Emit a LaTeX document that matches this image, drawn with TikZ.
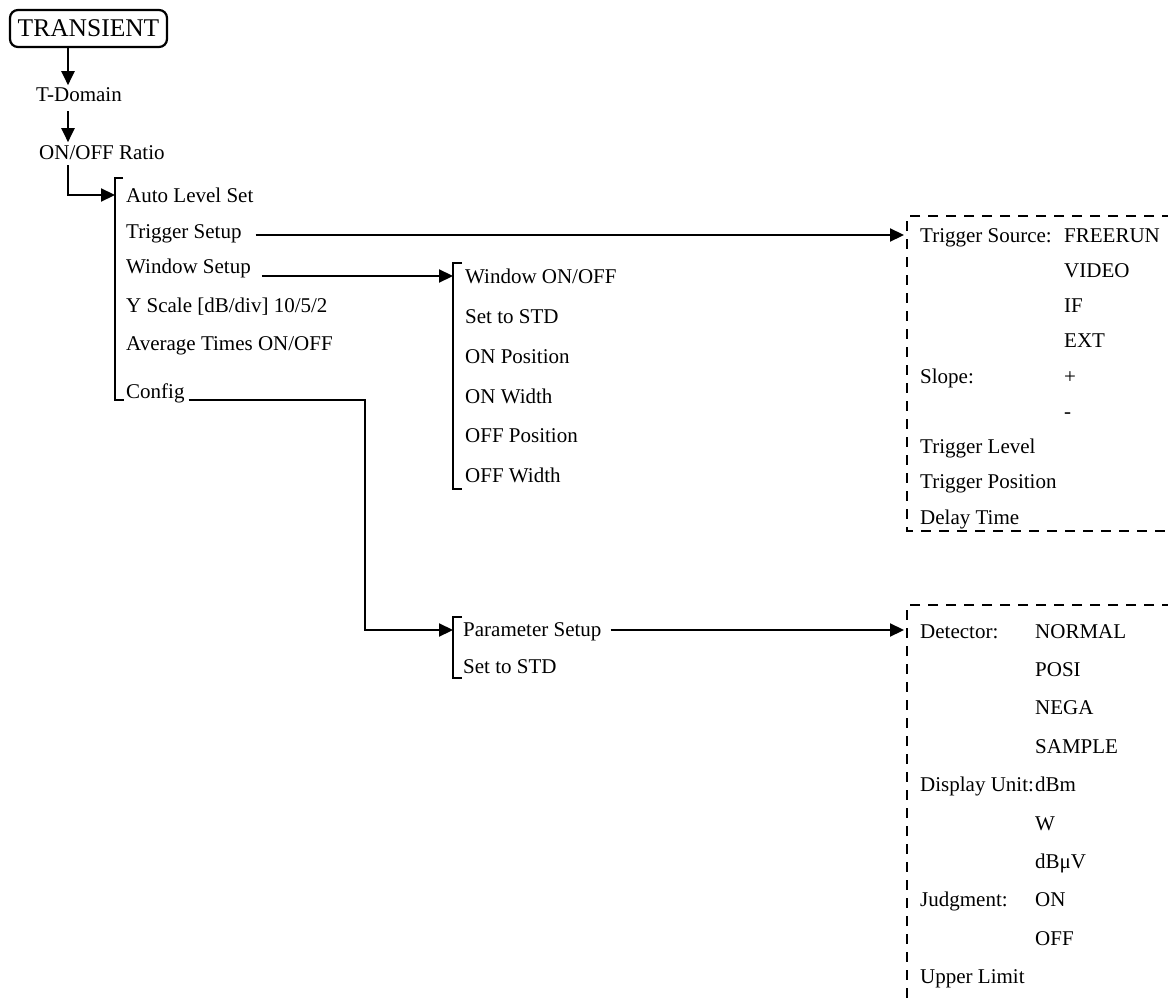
\documentclass[tikz,border=0pt]{standalone}
\usepackage{fontspec}
\setmainfont{Liberation Serif}
\usetikzlibrary{arrows.meta}
\begin{document}
\begin{tikzpicture}[x=1pt,y=-1pt,
  txt/.style={inner sep=0pt, anchor=base west, font=\fontsize{21}{25}\selectfont},
  arr/.style={-{Triangle[length=14pt,width=13pt]}, line width=2.2pt},
  ln/.style={line width=2.2pt},
  dbox/.style={line width=2.2pt, dash pattern=on 10pt off 8pt},
  rootbox/.style={draw, line width=2.2pt, rounded corners=8pt, inner sep=0pt,
    minimum width=157pt, minimum height=37pt, font=\fontsize{25.5}{30}\selectfont}
]
\useasboundingbox (0,0) rectangle (1168,1006);

% helper coordinates
\coordinate (ax) at (68,0);
\coordinate (tin) at (904,0);
\coordinate (b2) at (453,0);
\coordinate (cx) at (365,0);
\coordinate (b1in) at (115,195);
\coordinate (b3in) at (453,630);

% root chain
\node[rootbox] (root) at (88.5,28.5) {TRANSIENT};
\node[txt] (tdom) at (36,102) {T-Domain};
\node[txt] (ratio) at (39,160) {ON/OFF Ratio};

\draw[arr, shorten >=2.7pt] (root.south -| ax) -- (tdom.north -| ax);
\draw[arr, shorten <=9pt, shorten >=3.7pt] (tdom.south -| ax) -- (ratio.north -| ax);
\draw[arr, shorten <=5pt] (ratio.south -| ax) |- (b1in);

% first list
\draw[ln] (123,178) -- (115,178) -- (115,400) -- (124,400);
\node[txt] (auto) at (126,203) {Auto Level Set};
\node[txt] (trig) at (126,238) {Trigger Setup};
\node[txt] (wins) at (126,273) {Window Setup};
\node[txt] (ysc)  at (126,312) {Y Scale [dB/div] 10/5/2};
\node[txt] (avg)  at (126,350) {Average Times ON/OFF};
\node[txt] (conf) at (126,398) {Config};

% window list
\draw[ln] (462,263) -- (453,263) -- (453,489) -- (462,489);
\node[txt] (won)  at (465,283) {Window ON/OFF};
\node[txt] (wstd) at (465,323) {Set to STD};
\node[txt] (onp)  at (465,363) {ON Position};
\node[txt] (onw)  at (465,403) {ON Width};
\node[txt] (offp) at (465,442) {OFF Position};
\node[txt] (offw) at (465,482) {OFF Width};

% parameter list
\draw[ln] (462,617) -- (453,617) -- (453,678) -- (462,678);
\node[txt] (pset) at (463,636) {Parameter Setup};
\node[txt] (pstd) at (463,673) {Set to STD};

% connectors
\coordinate (ts) at ([xshift=14pt,yshift=3pt]trig.base east);
\draw[arr] (ts) -- (ts -| tin);
\coordinate (ws) at ([xshift=11pt,yshift=-3pt]wins.base east);
\draw[arr] (ws) -- (ws -| b2);
\coordinate (cs) at ([xshift=4pt,yshift=-2pt]conf.base east);
\draw[arr] (cs) -| (cx |- b3in) -- (b3in);
\coordinate (ps) at ([xshift=9pt,yshift=6pt]pset.base east);
\draw[arr] (ps) -- (ps -| tin);

% trigger box
\draw[dbox] (1190,216) -- (907,216) -- (907,531) -- (1190,531);
\node[txt] (tsrc) at (920,242) {Trigger Source:};
\node[txt] (tfree) at (1064,242) {FREERUN};
\node[txt] (tvid) at (1064,277.25) {VIDEO};
\node[txt] (tif) at (1064,312.5) {IF};
\node[txt] (text) at (1064,347.75) {EXT};
\node[txt] (slope) at (920,383) {Slope:};
\node[txt] (splus) at (1064,383) {+};
\node[txt] (sminus) at (1064,418.25) {-};
\node[txt] (tlev) at (920,453.5) {Trigger Level};
\node[txt] (tpos) at (920,488.75) {Trigger Position};
\node[txt] (delay) at (920,524) {Delay Time};

% parameter box
\draw[dbox] (1190,605) -- (907,605) -- (907,1030);
\node[txt] (det) at (920,638) {Detector:};
\node[txt] (dnorm) at (1035,638) {NORMAL};
\node[txt] (dposi) at (1035,676.4) {POSI};
\node[txt] (dnega) at (1035,714.8) {NEGA};
\node[txt] (dsamp) at (1035,753.2) {SAMPLE};
\node[txt] (dunit) at (920,791.6) {Display Unit:};
\node[txt] (udbm) at (1035,791.6) {dBm};
\node[txt] (uw) at (1035,830) {W};
\node[txt] (udbuv) at (1035,868.4) {dBμV};
\node[txt] (judg) at (920,906.8) {Judgment:};
\node[txt] (jon) at (1035,906.8) {ON};
\node[txt] (joff) at (1035,945.2) {OFF};
\node[txt] (upper) at (920,983.6) {Upper Limit};
\end{tikzpicture}
\end{document}
